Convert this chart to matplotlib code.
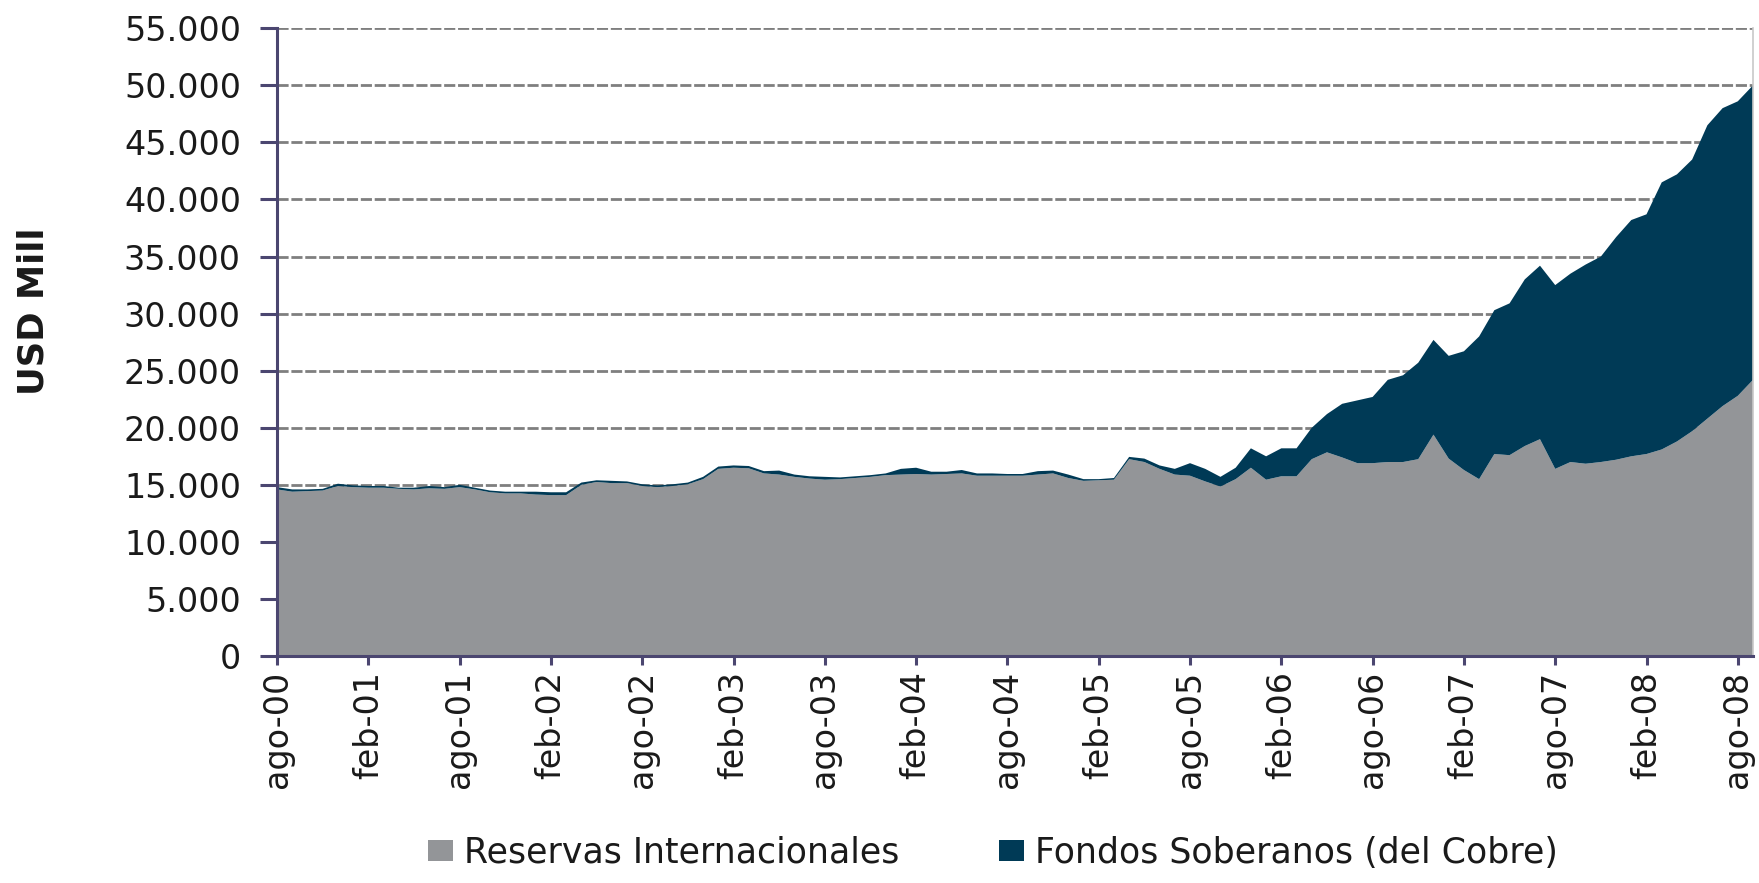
import numpy as np
import matplotlib
matplotlib.use('Agg')
import matplotlib.pyplot as plt
from matplotlib.ticker import FuncFormatter, MultipleLocator
from matplotlib.patches import Patch

plt.rcParams['font.family'] = ['DejaVu Sans']

# %% datos (USD millones, mensual ago-00 .. sep-08)
meses_es = ['ene', 'feb', 'mar', 'abr', 'may', 'jun', 'jul', 'ago', 'sep', 'oct', 'nov', 'dic']
periodos = []
for k in range(98):
    m = (7 + k) % 12
    a = 2000 + (7 + k) // 12
    periodos.append(f"{meses_es[m]}-{a % 100:02d}")

reservas = [14600, 14400, 14450, 14500, 14900, 14800, 14750, 14750, 14650, 14600,
            14700, 14650, 14800, 14600, 14350, 14250, 14250, 14150, 14100, 14100,
            15000, 15250, 15150, 15150, 14900, 14800, 14900, 15050, 15500, 16400,
            16500, 16450, 16000, 15900, 15700, 15550, 15450, 15500, 15600, 15700,
            15850, 15900, 15950, 15900, 15950, 16000, 15800, 15800, 15800, 15800,
            15900, 16000, 15600, 15350, 15400, 15450, 17250, 17000, 16400, 15900,
            15800, 15300, 14850, 15500, 16500, 15450, 15750, 15750, 17250, 17850,
            17400, 16900, 16900, 17000, 17000, 17250, 19400, 17300, 16300, 15500,
            17700, 17600, 18400, 19000, 16400, 17000, 16850, 17000, 17200, 17500,
            17700, 18100, 18800, 19700, 20800, 21900, 22800, 24200]

total = [14800, 14600, 14600, 14650, 15100, 14950, 14900, 14900, 14750, 14750,
         14900, 14800, 15000, 14750, 14500, 14400, 14400, 14400, 14350, 14350,
         15200, 15400, 15350, 15300, 15050, 14950, 15050, 15200, 15700, 16600,
         16700, 16650, 16200, 16250, 15900, 15750, 15700, 15650, 15750, 15850,
         16000, 16400, 16500, 16150, 16150, 16300, 16000, 16000, 15950, 15950,
         16200, 16250, 15900, 15500, 15500, 15600, 17450, 17300, 16700, 16400,
         16900, 16400, 15700, 16500, 18200, 17500, 18200, 18200, 20000, 21200,
         22100, 22400, 22700, 24200, 24600, 25700, 27700, 26300, 26700, 28000,
         30300, 30900, 33000, 34200, 32500, 33500, 34300, 35000, 36700, 38200,
         38700, 41500, 42200, 43500, 46500, 48000, 48600, 50000]

fondos = [t - r for t, r in zip(total, reservas)]

series_nombres = ['Reservas Internacionales', 'Fondos Soberanos (del Cobre)']
colores = ['#939598', '#003A56']
eje_color = '#4B4670'

# %% grafico
fig = plt.figure(figsize=(17.59, 8.83), dpi=100)
ax = fig.add_axes([0.1575, 0.257, 0.8391, 0.711])

x = np.arange(len(periodos))
ax.stackplot(x, reservas, fondos, colors=colores, linewidth=0, zorder=2)

ax.set_xlim(0, len(periodos) - 1)
ax.set_ylim(0, 55000)
ax.yaxis.set_major_locator(MultipleLocator(5000))
ax.yaxis.set_major_formatter(FuncFormatter(lambda v, p: f"{int(v):,}".replace(',', '.')))
ax.grid(axis='y', color='#7f7f7f', linestyle=(0, (4, 1)), linewidth=2.0, zorder=1)
ax.set_axisbelow(True)

ax.set_xticks(x[::6])
ax.set_xticklabels(periodos[::6], rotation=90, fontsize=24, color='#1a1a1a')

ax.tick_params(axis='y', length=12, width=2.2, color=eje_color, pad=14,
               labelsize=24, labelcolor='#1a1a1a')
ax.tick_params(axis='x', length=6.5, width=2.2, color=eje_color, pad=4)

for s in ['left', 'bottom']:
    ax.spines[s].set_color(eje_color)
    ax.spines[s].set_linewidth(2.2)
ax.spines['top'].set_visible(False)
ax.spines['right'].set_color('#c8c8c8')
ax.spines['right'].set_linewidth(1.2)

fig.text(0.0193, 0.647, 'USD Mill', rotation=90, fontsize=25.5, fontweight='bold',
         ha='center', va='center', color='#1a1a1a')

handles = [Patch(facecolor=c, edgecolor='none') for c in colores]
fig.legend(handles, series_nombres, loc='center', bbox_to_anchor=(0.5645, 0.034),
           ncol=2, frameon=False, fontsize=25, handlelength=0.72, handleheight=0.55,
           handletextpad=0.32, columnspacing=2.85, labelcolor='#1a1a1a')

fig.savefig('out.png', dpi=100)
